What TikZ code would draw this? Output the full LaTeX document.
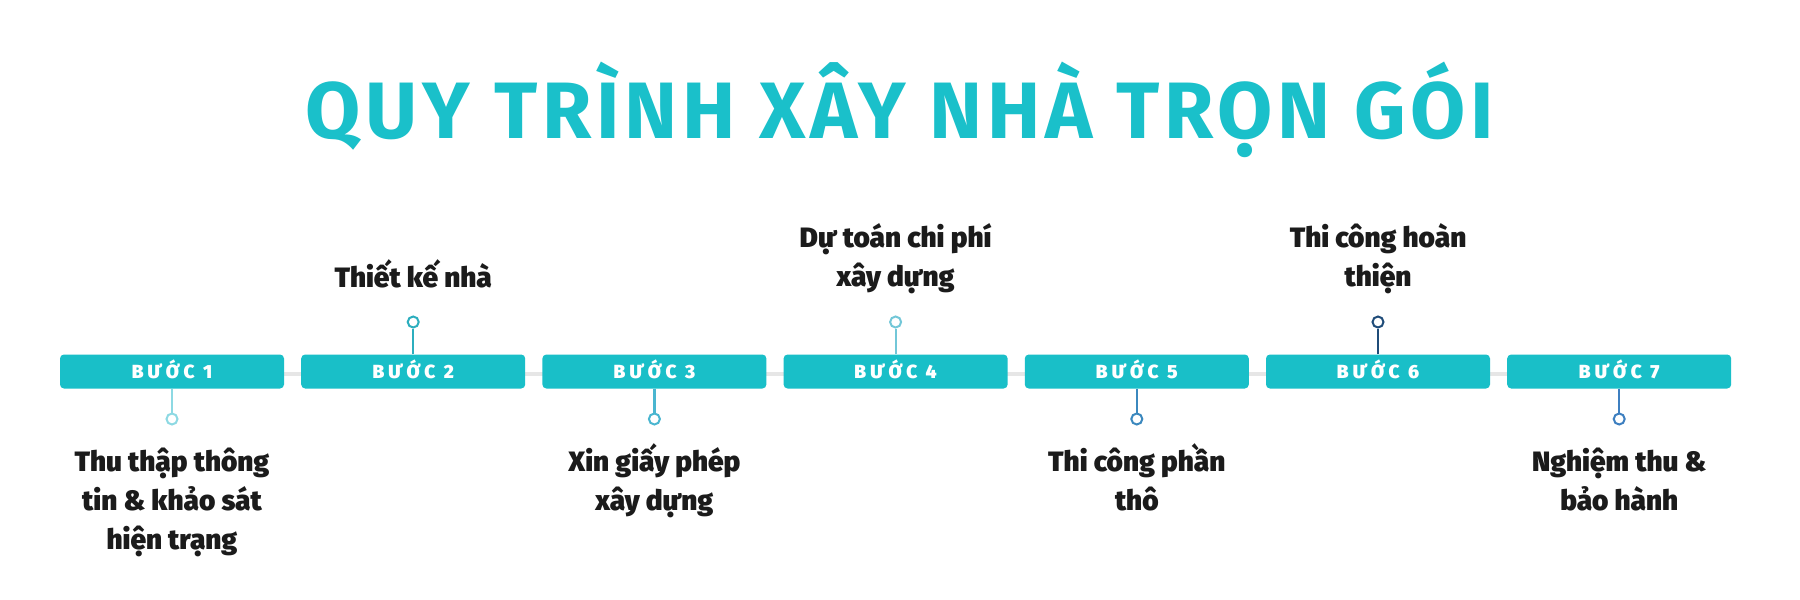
\documentclass[tikz,border=0pt]{standalone}
\usepackage{fontspec}
\setmainfont{Fira Sans}
\newfontfamily\titlefont{Fira Sans}[LetterSpace=6]
\newfontfamily\boxfont{Fira Sans Black}[LetterSpace=22]
\newfontfamily\labfont{Fira Sans Black}
\definecolor{boxc}{HTML}{19BFC8}
\definecolor{titlec}{HTML}{1AC0CA}
\definecolor{labc}{HTML}{1B1B1B}
\definecolor{linec}{HTML}{E6E6E6}
\definecolor{cA}{HTML}{8DD9E3}
\definecolor{cB}{HTML}{2CAEBE}
\definecolor{cC}{HTML}{4AB6D0}
\definecolor{cD}{HTML}{72C7D8}
\definecolor{cE}{HTML}{3B88BE}
\definecolor{cF}{HTML}{1F4C79}
\definecolor{cG}{HTML}{3D7FC0}
\begin{document}
\begin{tikzpicture}[x=1pt,y=-1pt,
  stepbox/.style={rectangle, rounded corners=4pt, fill=boxc, minimum width=224pt, minimum height=34pt, inner sep=0pt, text=white, text height=13pt, text depth=0pt, font=\boxfont\fontsize{19}{19}\selectfont},
  dot/.style={circle, draw=#1, line width=2pt, fill=white, minimum size=11pt, inner sep=0pt},
  stem/.style={draw=#1, line width=2.2pt},
  lab/.style={align=center, anchor=base, font=\labfont\fontsize{28}{39}\selectfont, text=labc}]
\useasboundingbox (0,0) rectangle (1800,600);
\fill[white] (0,0) rectangle (1800,600);
\node[anchor=base, font=\titlefont\bfseries\fontsize{80}{80}\selectfont, text=titlec] (title) at (900,138) {QUY TRÌNH XÂY NHÀ TRỌN GÓI};
\coordinate (ls) at (172,374);
\coordinate (le) at (1619,374);
\draw[linec, line width=4pt] (ls) -- (le);
\node[stepbox] (b1) at (172,371.5) {BƯỚC 1};
\node[stepbox] (b2) at (413.2,371.5) {BƯỚC 2};
\node[stepbox] (b3) at (654.4,371.5) {BƯỚC 3};
\node[stepbox] (b4) at (895.6,371.5) {BƯỚC 4};
\node[stepbox] (b5) at (1136.8,371.5) {BƯỚC 5};
\node[stepbox] (b6) at (1378,371.5) {BƯỚC 6};
\node[stepbox] (b7) at (1619.2,371.5) {BƯỚC 7};
\node[dot=cA] (d1) at (172,419) {};
\node[dot=cB] (d2) at (413.2,322) {};
\node[dot=cC] (d3) at (654.4,419) {};
\node[dot=cD] (d4) at (895.6,322) {};
\node[dot=cE] (d5) at (1136.8,419) {};
\node[dot=cF] (d6) at (1378,322) {};
\node[dot=cG] (d7) at (1619.2,419) {};
\draw[stem=cA] (b1) -- (d1);
\draw[stem=cB] (b2) -- (d2);
\draw[stem=cC] (b3) -- (d3);
\draw[stem=cD] (b4) -- (d4);
\draw[stem=cE] (b5) -- (d5);
\draw[stem=cF] (b6) -- (d6);
\draw[stem=cG] (b7) -- (d7);
\node[lab] (t1) at (172,549) {Thu thập thông\\tin \& khảo sát\\hiện trạng};
\node[lab] (t2) at (413.2,287) {Thiết kế nhà};
\node[lab] (t3) at (654.4,510) {Xin giấy phép\\xây dựng};
\node[lab] (t4) at (895.6,286) {Dự toán chi phí\\xây dựng};
\node[lab] (t5) at (1136.8,510) {Thi công phần\\thô};
\node[lab] (t6) at (1378,286) {Thi công hoàn\\thiện};
\node[lab] (t7) at (1619.2,510) {Nghiệm thu \&\\bảo hành};
\end{tikzpicture}
\end{document}
